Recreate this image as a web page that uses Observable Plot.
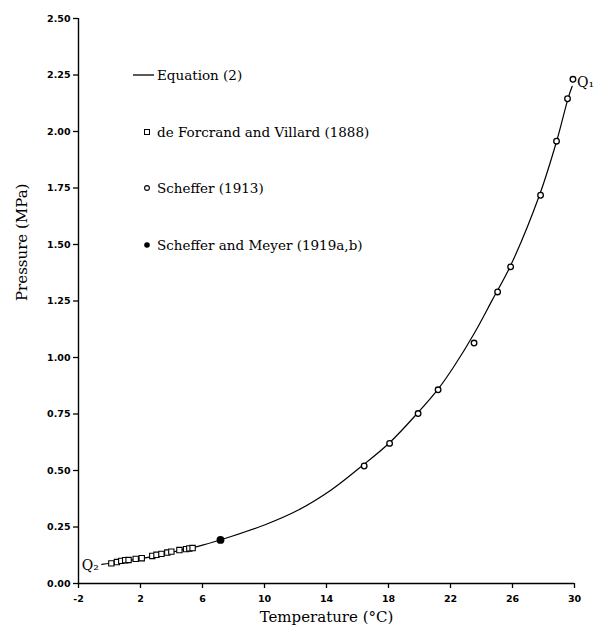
<!DOCTYPE html>
<html>
<head>
<meta charset="utf-8">
<script src="https://cdn.jsdelivr.net/npm/d3@7"></script>
<script src="https://cdn.jsdelivr.net/npm/@observablehq/plot@0.6"></script>
<style>
  html, body { margin: 0; padding: 0; background: white; }
</style>
</head>
<body>
<div id="chart"></div>
<script>
// Equation (2) curve
const curveT = [-0.5, 0.5, 2, 4, 6, 7.85, 10.0, 12.15, 14.3, 16.1, 18.07, 19.9, 21.2, 22.2, 23.5, 24.7, 25.9, 27.75, 28.86, 29.6, 29.85];
const curveP = [0.085, 0.094, 0.110, 0.138, 0.170, 0.208, 0.259, 0.324, 0.414, 0.510, 0.623, 0.756, 0.860, 0.958, 1.103, 1.255, 1.41, 1.72, 1.96, 2.15, 2.20];

// de Forcrand and Villard (1888) — squares
const fvT = [0.12, 0.48, 0.76, 1.01, 1.23, 1.69, 2.08, 2.76, 3.03, 3.35, 3.73, 3.99, 4.51, 4.94, 5.15, 5.36];
const fvP = [0.089, 0.095, 0.100, 0.103, 0.104, 0.109, 0.112, 0.122, 0.127, 0.131, 0.137, 0.141, 0.148, 0.152, 0.155, 0.157];

// Scheffer (1913) — open circles
const schT = [16.43, 18.07, 19.91, 21.2, 23.52, 25.04, 25.88, 27.81, 28.84, 29.55, 29.9];
const schP = [0.520, 0.620, 0.752, 0.857, 1.064, 1.290, 1.401, 1.718, 1.957, 2.145, 2.231];

// Scheffer and Meyer (1919a,b) — filled circles
const smT = [7.16];
const smP = [0.193];

const xTicks = [-2, 2, 6, 10, 14, 18, 22, 26, 30];
const yTicks = [0, 0.25, 0.5, 0.75, 1.0, 1.25, 1.5, 1.75, 2.0, 2.25, 2.5];

const legendLabels = ["Equation (2)", "de Forcrand and Villard (1888)", "Scheffer (1913)", "Scheffer and Meyer (1919a,b)"];
const xLabel = "Temperature (°C)";
const yLabel = "Pressure (MPa)";
const q1Label = "Q₁";
const q2Label = "Q₂";

const curve = curveT.map((t, i) => ({T: t, P: curveP[i]}));
const fv = fvT.map((t, i) => ({T: t, P: fvP[i]}));
const sch = schT.map((t, i) => ({T: t, P: schP[i]}));
const sm = smT.map((t, i) => ({T: t, P: smP[i]}));

const serif = "'DejaVu Serif', serif";

const svg = Plot.plot({
  width: 594,
  height: 626,
  marginLeft: 78,
  marginRight: 20,
  marginTop: 18,
  marginBottom: 43,
  x: {domain: [-2, 30]},
  y: {domain: [0, 2.5]},
  style: {fontFamily: "'DejaVu Sans', sans-serif", background: "white", color: "black"},
  marks: [
    Plot.axisX({ticks: xTicks, tickSize: 5, tickPadding: 7, tickFormat: d => `${d}`, label: null, fontSize: 9.5, fontWeight: "bold", strokeWidth: 1.3}),
    Plot.axisY({ticks: yTicks, tickSize: 5, tickPadding: 3, tickFormat: d3.format(".2f"), label: null, fontSize: 9.5, fontWeight: "bold", strokeWidth: 1.3}),
    Plot.ruleX([-2], {strokeWidth: 1.4}),
    Plot.ruleY([0], {strokeWidth: 1.4}),
    Plot.line(curve, {x: "T", y: "P", curve: "catmull-rom", stroke: "black", strokeWidth: 1.2}),
    Plot.dot(fv, {x: "T", y: "P", symbol: "square", r: 3, stroke: "black", fill: "white", strokeWidth: 1.1}),
    Plot.dot(sch, {x: "T", y: "P", r: 2.8, stroke: "black", fill: "white", strokeWidth: 1.3}),
    Plot.dot(sm, {x: "T", y: "P", r: 3.2, stroke: "black", fill: "black"}),
    Plot.text([curve[0]], {x: "T", y: "P", text: () => q2Label, textAnchor: "end", dx: -3, dy: 1, fontFamily: serif, fontSize: 14}),
    Plot.text([sch[sch.length - 1]], {x: "T", y: "P", text: () => q1Label, textAnchor: "start", dx: 4, dy: 3, fontFamily: serif, fontSize: 14}),
    Plot.text([xLabel], {frameAnchor: "bottom", dy: 38, lineAnchor: "bottom", fontFamily: serif, fontSize: 15}),
    Plot.text([yLabel], {frameAnchor: "left", dx: -56, rotate: -90, fontFamily: serif, fontSize: 15})
  ]
});

// Legend inside the plot area
const rowsY = [75, 132, 188, 245];
const lg = d3.select(svg).append("g")
  .attr("font-family", serif)
  .attr("font-size", 13.5)
  .attr("text-anchor", "start")
  .attr("fill", "black");
lg.append("line").attr("x1", 133).attr("x2", 154).attr("y1", rowsY[0]).attr("y2", rowsY[0])
  .attr("stroke", "black").attr("stroke-width", 1.3);
lg.append("rect").attr("x", 144.5).attr("y", rowsY[1] - 2.5).attr("width", 5).attr("height", 5)
  .attr("fill", "white").attr("stroke", "black").attr("stroke-width", 1);
lg.append("circle").attr("cx", 147).attr("cy", rowsY[2]).attr("r", 2.4)
  .attr("fill", "white").attr("stroke", "black").attr("stroke-width", 1.1);
lg.append("circle").attr("cx", 147).attr("cy", rowsY[3]).attr("r", 2.8).attr("fill", "black");
lg.selectAll("text.lab").data(legendLabels).join("text")
  .attr("class", "lab")
  .attr("x", 157)
  .attr("y", (d, i) => rowsY[i])
  .attr("dy", "0.35em")
  .attr("text-anchor", "start")
  .text(d => d);

document.getElementById("chart").appendChild(svg);
</script>
</body>
</html>
